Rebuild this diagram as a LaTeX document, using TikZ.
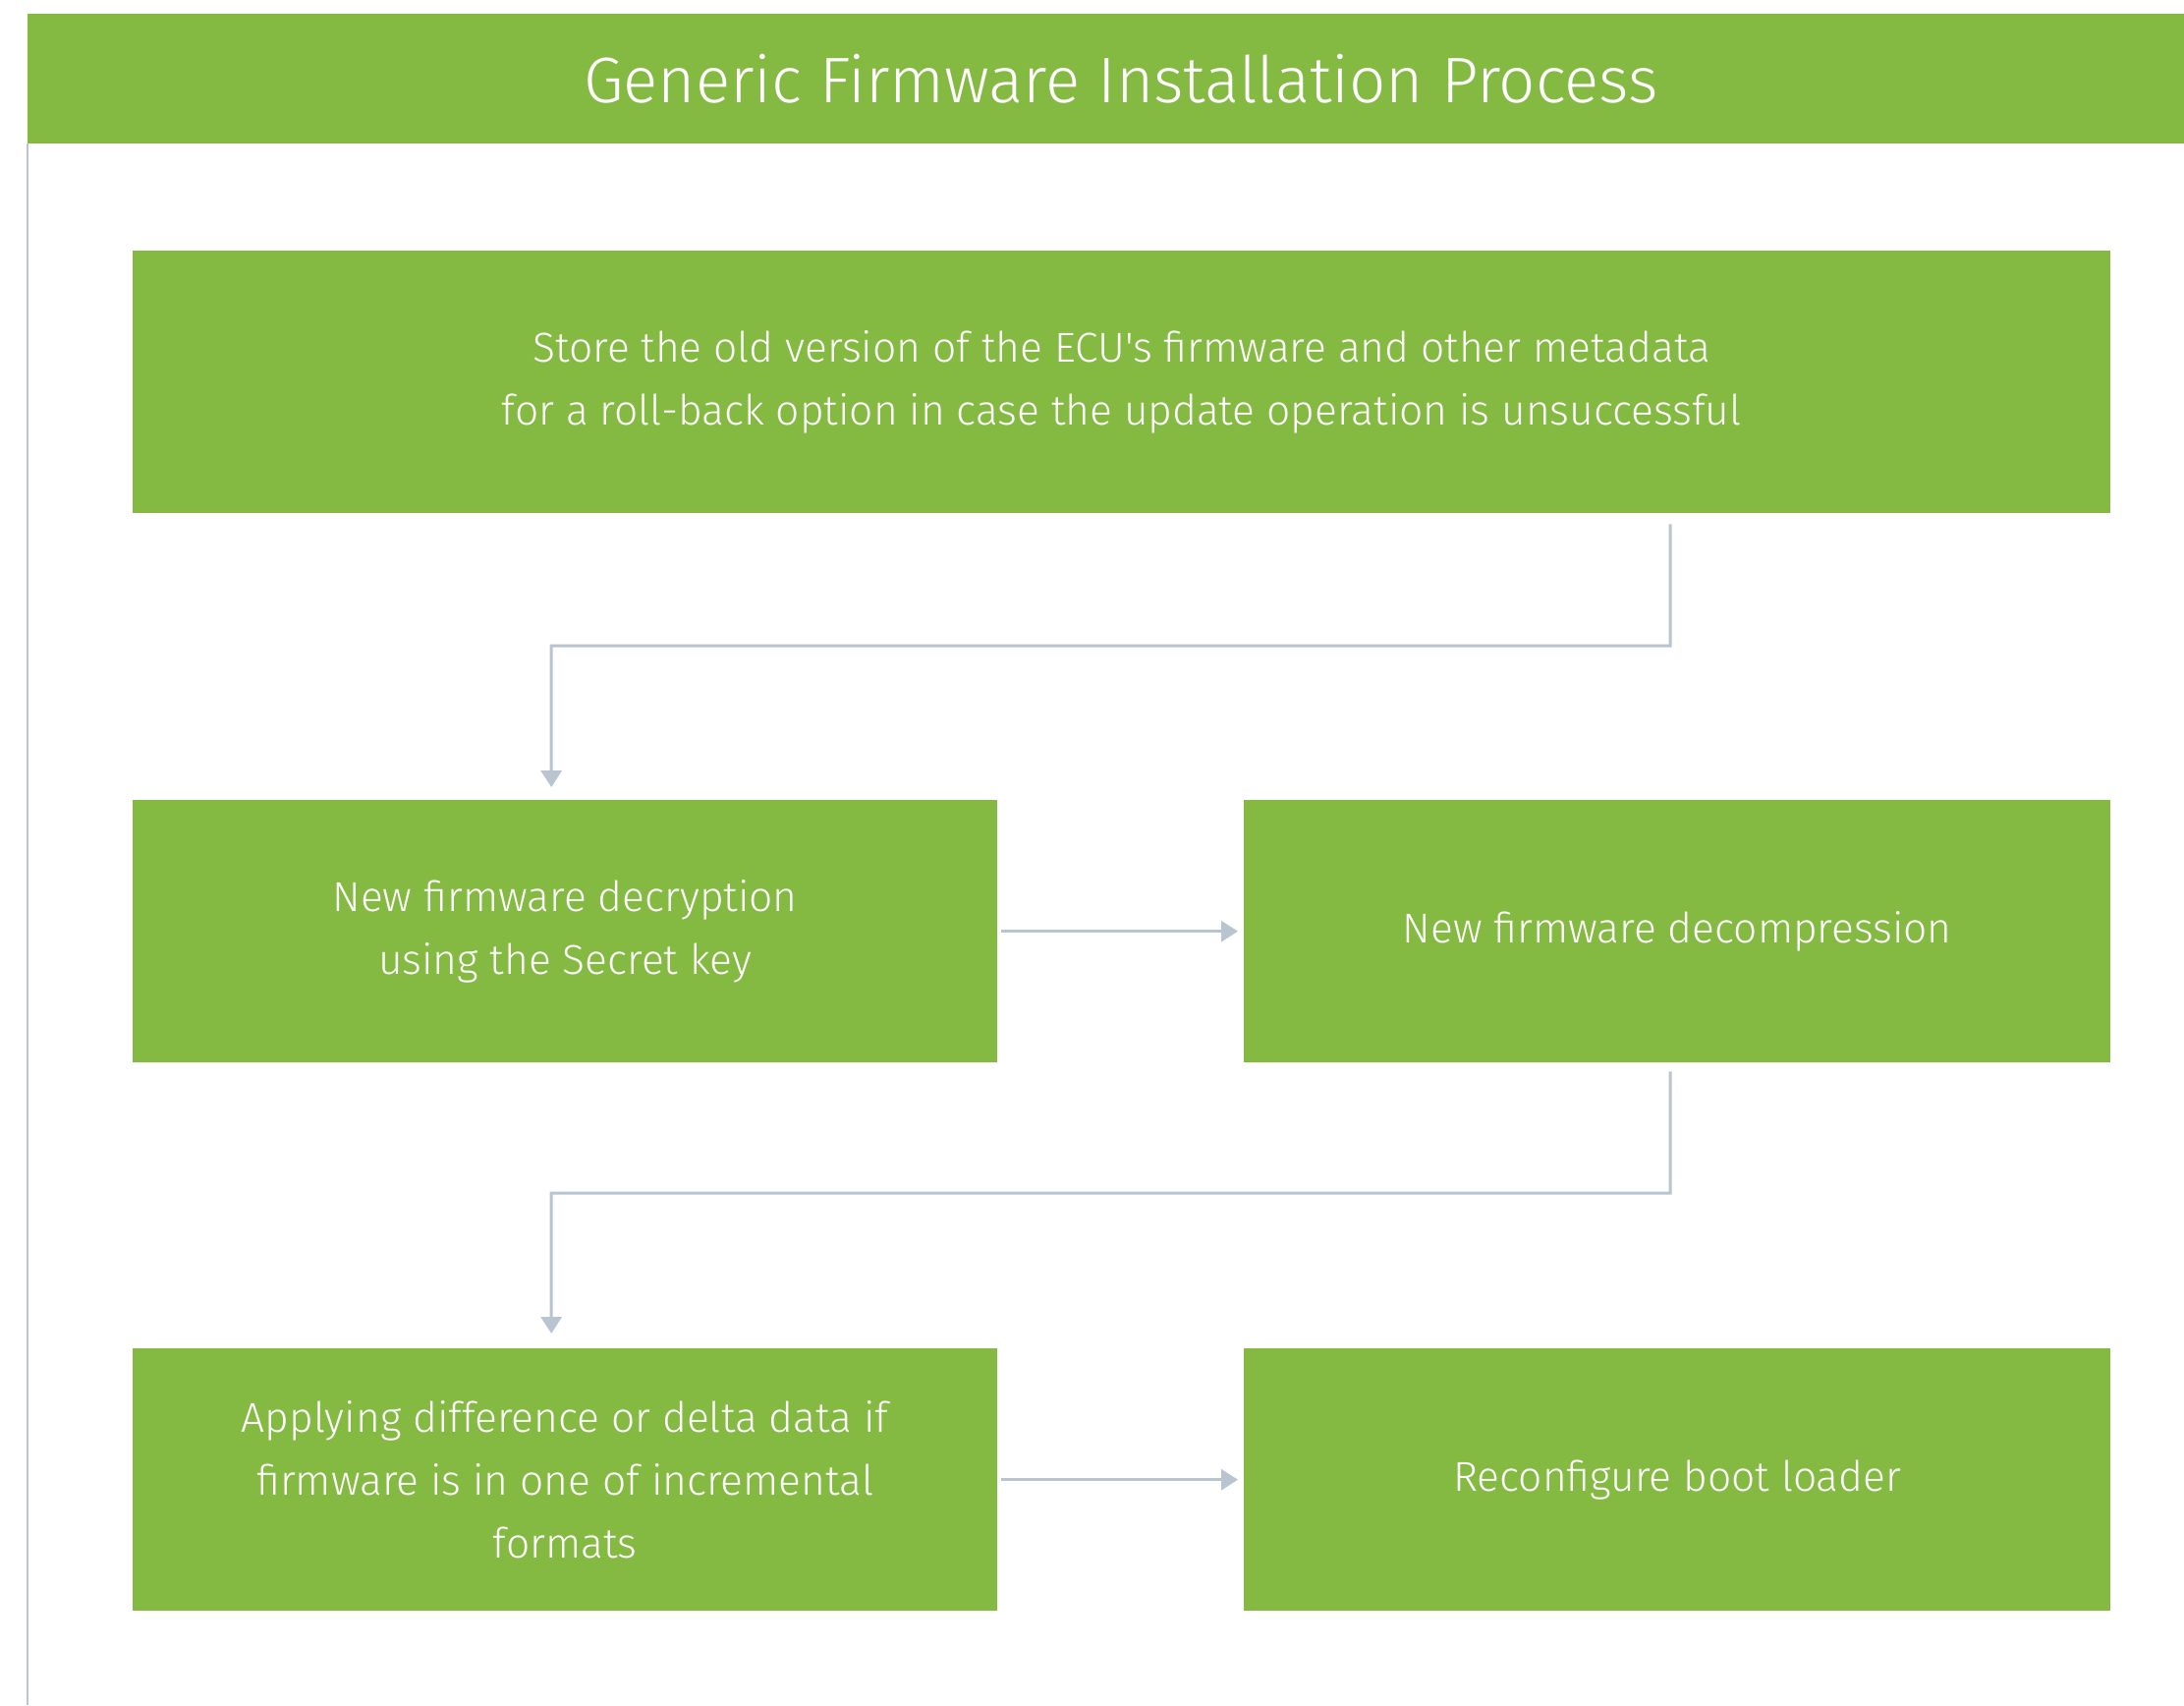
\documentclass[tikz,border=0pt]{standalone}
\usepackage{fontspec}
\setmainfont{Fira Sans Light}[Ligatures=TeXOff]
\usetikzlibrary{arrows.meta,calc}
\definecolor{fwgreen}{HTML}{84B942}
\definecolor{fwline}{HTML}{B8C4D0}
\tikzset{
  greenbox/.style={fill=fwgreen, draw=none, text=white, align=center, inner sep=0pt,
    font=\fontsize{42.5}{64}\selectfont},
  conn/.style={draw=fwline, line width=3pt, -{Triangle[width=21pt,length=17pt]}},
  plainline/.style={draw=fwline, line width=3pt}
}
\begin{document}
\begin{tikzpicture}[x=1pt,y=-1pt]
\useasboundingbox (0,0) rectangle (2223,1735);
\fill[white] (0,0) rectangle (2223,1735);
% title bar
\node[fill=fwgreen, minimum width=2195pt, minimum height=132pt, inner sep=0pt, anchor=north west] (bar) at (28,14) {};
\node[text=white, font=\fontsize{65.5}{72}\selectfont, inner sep=0pt] (title) at (1141,80) {Generic Firmware Installation Process};
\coordinate (lt) at (28,1735);
\draw[plainline, line width=2.5pt] (bar.south west) -- (lt);
% boxes
\node[greenbox, minimum width=2013pt, minimum height=267pt, anchor=north west] (b1) at (135,255)
  {Store the old version of the ECU's firmware and other metadata\\for a roll-back option in case the update operation is unsuccessful};
\node[greenbox, minimum width=880pt, minimum height=267pt, anchor=north west] (b2) at (135,814)
  {New firmware decryption\\using the Secret key};
\node[greenbox, minimum width=882pt, minimum height=267pt, anchor=north west] (b3) at (1266,814)
  {New firmware decompression};
\node[greenbox, minimum width=880pt, minimum height=267pt, anchor=north west] (b4) at (135,1372)
  {Applying difference or delta data if\\firmware is in one of incremental\\formats};
\node[greenbox, minimum width=882pt, minimum height=267pt, anchor=north west] (b5) at (1266,1372)
  {Reconfigure boot loader};
% connectors
\coordinate (k1) at (561,657);
\coordinate (k2) at (561,1214);
\draw[conn] ($(b1.south -| b3.south)+(-7,11)$) |- (k1) -- ($(b2.north)+(-14,-13)$);
\draw[conn] ($(b2.east)+(4,0)$) -- ($(b3.west)+(-6,0)$);
\draw[conn] ($(b3.south)+(-7,9)$) |- (k2) -- ($(b4.north)+(-14,-15)$);
\draw[conn] ($(b4.east)+(4,0)$) -- ($(b5.west)+(-6,0)$);
\end{tikzpicture}
\end{document}
